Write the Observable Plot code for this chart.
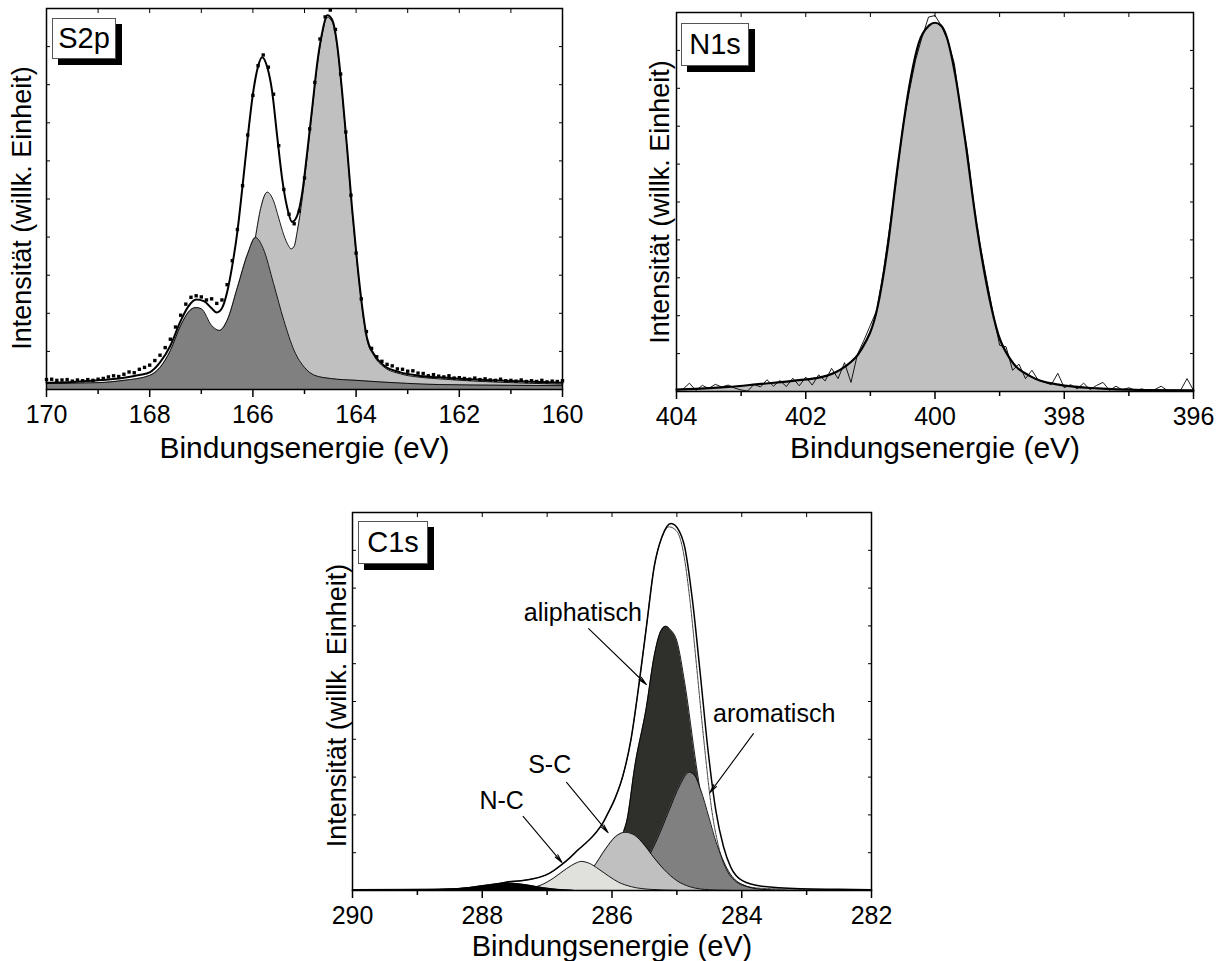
<!DOCTYPE html>
<html><head><meta charset="utf-8">
<script src="https://cdn.jsdelivr.net/npm/d3@7"></script>
<script src="https://cdn.jsdelivr.net/npm/@observablehq/plot@0.6"></script>
<style>
body{margin:0;background:#fff;}
#page{position:relative;width:1224px;height:961px;background:#fff;overflow:hidden;font-family:"Liberation Sans",Arial,Helvetica,sans-serif;}
.panel{position:absolute;}
.tag{position:absolute;background:#fff;border:1px solid #555;box-shadow:6px 6px 0 #000;font-size:29px;line-height:1;display:flex;align-items:center;justify-content:center;box-sizing:border-box;color:#000;}
</style></head><body>
<div id="page">
  <div class="panel" id="s2p" style="left:0px;top:0px"></div>
  <div class="panel" id="n1s" style="left:624px;top:0px"></div>
  <div class="panel" id="c1s" style="left:300px;top:470px"></div>
</div>
<script>
// ---------- text ----------
const yTitle = "Intensität (willk. Einheit)";
const xTitle = "Bindungsenergie (eV)";
const panelNames = ["S2p", "N1s", "C1s"];
const yTicks = [10, 20, 30, 40, 50, 60, 70, 80, 90];

// ---------- S2p ----------
const s2pMajor = [170, 168, 166, 164, 162, 160];
const s2pMinor = [169, 167, 165, 163, 161];
const s2pFitE = [170, 169.5, 169, 168.5, 168.2, 168, 167.8, 167.6, 167.4, 167.25, 167.1, 166.95, 166.8, 166.7, 166.6, 166.5, 166.4, 166.3, 166.2, 166.1, 166.0, 165.9, 165.82, 165.72, 165.63, 165.53, 165.43, 165.34, 165.24, 165.14, 165.04, 164.95, 164.85, 164.75, 164.66, 164.56, 164.46, 164.37, 164.27, 164.17, 164.08, 163.98, 163.88, 163.79, 163.66, 163.46, 163.14, 162.82, 162.4, 161.7, 161, 160];
const s2pFitI = [1.8, 2.0, 2.4, 3.1, 3.8, 4.5, 7.1, 11.5, 18, 21.8, 23.6, 23.2, 21.3, 20.2, 21.3, 25.5, 32.5, 41.5, 53.5, 66.2, 77.5, 84.8, 87.2, 84.5, 78.5, 66.5, 55, 48, 44, 45.7, 52, 62, 74, 86, 93.5, 98.2, 96.9, 90.8, 78, 62.7, 47.8, 33.5, 21.5, 13.6, 9.4, 6.3, 4.5, 3.7, 3.2, 2.6, 2.2, 1.8];
const s2pLightE = [170, 168, 167, 166.6, 166.4, 166.2, 166.05, 165.95, 165.85, 165.72, 165.6, 165.5, 165.4, 165.3, 165.26, 165.2, 165.14, 165.04, 164.95, 164.85, 164.75, 164.66, 164.56, 164.46, 164.37, 164.27, 164.17, 164.08, 163.98, 163.88, 163.79, 163.66, 163.46, 163.14, 162.82, 162.4, 161.7, 161, 160];
const s2pLightI = [1.0, 2.0, 5, 9, 14, 22, 32, 40, 47.5, 51.8, 49.5, 45, 40.5, 37.5, 36.9, 37.6, 41.5, 50.5, 61, 73.5, 85.5, 93, 97.7, 96.4, 90.3, 77.5, 62.2, 47.3, 33, 21, 13.1, 9, 5.9, 4.1, 3.3, 2.8, 2.2, 1.8, 1.4];
const s2pDarkE = [170, 169, 168.5, 168, 167.8, 167.6, 167.4, 167.2, 167.1, 167.0, 166.8, 166.65, 166.5, 166.3, 166.1, 165.95, 165.8, 165.6, 165.4, 165.2, 165.0, 164.8, 164.5, 164, 163, 162.4, 161, 160];
const s2pDarkI = [1.6, 1.8, 2.4, 3.7, 5.8, 10.2, 16.8, 21, 21.5, 21.2, 16.8, 15.5, 18.1, 26.8, 35.7, 39.9, 37, 27.8, 18.1, 10.2, 5.8, 3.7, 2.9, 2.4, 1.6, 1.3, 1.1, 1.0];
// measured points, one every 0.1 eV from 170.0 down to 160.0
const s2pDataStart = 170, s2pDataStep = 0.1;
const s2pDataI = [
  2.6, 2.7, 2.4, 2.5, 2.6, 2.2, 2.5, 2.3, 2.6, 2.4,
  2.7, 2.9, 3.3, 3.6, 3.4, 4.0, 4.6, 4.4, 5.3, 5.8,
  6.4, 7.6, 9.0, 11.0, 13.2, 16.4, 19.5, 22.4, 24.2, 24.6,
  24.3, 23.5, 23.8, 22.6, 23.5, 27.5, 33.8, 42.0, 53.5, 66.8,
  77.2, 85.0, 87.8, 84.6, 77.5, 64.0, 52.5, 46.0, 43.5, 46.8,
  55.5, 68.4, 80.6, 92.0, 97.8, 99.6, 94.5, 82.8, 67.6, 51.0,
  35.8, 23.8, 15.2, 10.8, 8.6, 7.4, 6.6, 6.2, 5.4, 5.3,
  4.8, 4.9, 4.3, 4.2, 3.6, 3.9, 3.5, 3.3, 3.6, 3.0,
  3.1, 2.9, 2.7, 3.0, 2.6, 2.8, 2.5, 2.4, 2.7, 2.3,
  2.4, 2.2, 2.5, 2.1, 2.3, 2.1, 2.4, 2.0, 2.2, 2.1,
  2.3];

// ---------- N1s ----------
const n1sMajor = [404, 402, 400, 398, 396];
const n1sMinor = [403, 401, 399, 397];
const n1sFitE = [404, 403.7, 403.2, 402.7, 402.2, 401.67, 401.4, 401.15, 400.89, 400.74, 400.58, 400.4, 400.25, 400.09, 400.0, 399.91, 399.82, 399.69, 399.54, 399.35, 399.17, 399.02, 398.83, 398.52, 398.09, 397.48, 396.8, 396];
const n1sFitI = [0.5, 0.7, 1.2, 2.0, 2.8, 4.2, 6.5, 10.8, 22.2, 37.2, 59.1, 80.3, 92, 96.6, 97.3, 96.6, 93.6, 83.8, 67.1, 43.2, 25.6, 15, 8.4, 4, 1.8, 0.8, 0.4, 0.3];
// raw spectrum, one point every 0.1 eV from 404.0 down to 396.0
const n1sRawStart = 404, n1sRawStep = 0.1;
const n1sRawI = [
  0.4, 0.6, 2.2, 0.3, 1.6, 0.8, 1.9, 1.2, 1.7, 0.9,
  0.4, 0.1, 1.9, 1.2, 3.1, 1.4, 2.9, 1.3, 3.5, 1.5,
  3.8, 1.7, 4.4, 2.8, 6.1, 3.4, 7.6, 2.4, 9.8, 13.5,
  17.5, 21.5, 31.5, 43.5, 55.5, 69.6, 79, 87.5, 93.5, 98.8,
  99.2, 96.5, 92.5, 86.5, 73.5, 63.5, 49.5, 38.5, 29.5, 20.5,
  12.2, 11.8, 5.6, 7.2, 3.4, 5.6, 2.9, 2.4, 1.8, 4.8,
  1.0, 1.8, 0.7, 2.2, 0.5, 1.6, 2.4, 0.3, 1.4, 0.4,
  1.0, 0.3, 0.7, 0.2, 0.5, 1.4, 0.2, 0.1, 0.3, 3.4,
  0.3];

// ---------- C1s ----------
const c1sMajor = [290, 288, 286, 284, 282];
const c1sMinor = [289, 287, 285, 283];
const c1sFitE = [290, 289, 288.44, 288.1, 287.85, 287.6, 287.4, 287.25, 287.1, 286.96, 286.8, 286.66, 286.52, 286.42, 286.3, 286.24, 286.15, 286.07, 285.95, 285.83, 285.71, 285.59, 285.47, 285.35, 285.23, 285.09, 284.97, 284.88, 284.76, 284.64, 284.52, 284.4, 284.28, 284.17, 283.99, 283.69, 283.1, 282.5, 282];
const c1sFitI = [0.2, 0.25, 0.4, 0.8, 1.3, 2.3, 2.6, 3.0, 3.6, 4.6, 6.5, 8.5, 10.8, 12.3, 14.3, 15.5, 17.6, 20.2, 24.5, 30.5, 39.7, 53.8, 69.7, 85.6, 93.6, 97.1, 95.3, 90.9, 76.8, 57.4, 37.1, 21.2, 11.5, 6.2, 2.6, 1.1, 0.44, 0.3, 0.2];
const c1sDataE = [290, 288.44, 288.1, 287.85, 287.6, 287.4, 287.25, 287.1, 286.96, 286.8, 286.66, 286.52, 286.42, 286.3, 286.24, 286.15, 286.07, 285.95, 285.83, 285.71, 285.59, 285.47, 285.35, 285.23, 285.12, 285.0, 284.9, 284.8, 284.7, 284.58, 284.46, 284.34, 284.22, 284.1, 283.9, 283.6, 283, 282];
const c1sDataI = [0.2, 0.4, 0.8, 1.3, 2.3, 2.6, 3.0, 3.6, 4.6, 6.5, 8.5, 10.8, 12.3, 14.3, 15.5, 17.6, 20.2, 24.5, 30.5, 39.7, 53.8, 69.7, 85.6, 93.4, 96.2, 95.0, 89.5, 77, 60, 39, 21, 10.5, 5, 2.5, 1.0, 0.5, 0.3, 0.2];
const c1sAliphE = [286.6, 286.4, 286.2, 286.0, 285.9, 285.83, 285.77, 285.65, 285.47, 285.35, 285.25, 285.17, 285.1, 285.0, 284.88, 284.7, 284.55, 284.4, 284.25, 284.1, 283.9, 283.6];
const c1sAliphI = [0.1, 0.5, 2, 6, 10, 15, 18.5, 32.7, 48.5, 62, 68.5, 69.9, 69, 66, 55, 33, 17, 6.5, 2.5, 0.8, 0.2, 0.05];
const c1sAromE = [286.0, 285.65, 285.47, 285.29, 285.12, 284.95, 284.81, 284.72, 284.64, 284.5, 284.4, 284.3, 284.2, 284.1, 283.99, 283.69, 283.3];
const c1sAromI = [0.5, 3.5, 7.9, 14.1, 21.2, 28, 31.3, 30.3, 27, 19, 13, 8.5, 5, 2.8, 1.6, 0.3, 0.05];
const c1sSCE = [287.0, 286.7, 286.5, 286.3, 286.1, 285.95, 285.8, 285.65, 285.5, 285.35, 285.2, 285.0, 284.8, 284.5, 284.2];
const c1sSCI = [0.2, 1.2, 2.8, 5.9, 11, 14.2, 15.4, 14.6, 12, 8.6, 5.6, 2.6, 1.0, 0.2, 0.05];
const c1sNCE = [287.6, 287.3, 287.1, 286.9, 286.7, 286.55, 286.48, 286.35, 286.2, 286.05, 285.9, 285.7, 285.4, 285.0];
const c1sNCI = [0.1, 0.6, 1.4, 3.3, 5.8, 7.3, 7.7, 7.2, 5.6, 3.8, 2.2, 1.0, 0.3, 0.05];
const c1sCOE = [289.2, 288.6, 288.2, 287.9, 287.66, 287.45, 287.25, 287.05, 286.85, 286.6];
const c1sCOI = [0.05, 0.3, 0.8, 1.5, 2.0, 1.8, 1.3, 0.7, 0.3, 0.05];
// annotations
const c1sLabels = ["aliphatisch", "aromatisch", "S-C", "N-C"];
const c1sLabelE = [286.45, 283.50, 286.96, 287.70];
const c1sLabelI = [73.5, 46.8, 33.1, 23.8];
const c1sArrowFromE = [286.36, 283.82, 286.70, 287.37];
const c1sArrowFromI = [69.3, 41.5, 28.6, 19.6];
const c1sArrowToE = [285.47, 284.49, 286.06, 286.77];
const c1sArrowToI = [54.5, 25.9, 15.3, 7.4];

// ---------- helpers ----------
const FONT = '"Liberation Sans", Arial, Helvetica, sans-serif';
const CURVE = "monotone-x";
const zip = (E, I) => E.map((e, i) => ({e, v: I[i]}));
const grid = (start, step, I) => I.map((v, i) => ({e: +(start - i * step).toFixed(2), v}));

function comp(data, fill) {
  return [
    Plot.areaY(data, {x: "e", y: "v", fill, curve: CURVE}),
    Plot.lineY(data, {x: "e", y: "v", stroke: "black", strokeWidth: 0.9, curve: CURVE})
  ];
}

function axes(major, minor) {
  const all = major.concat(minor);
  return [
    Plot.axisX({ticks: major, tickSize: 8, tickPadding: 8, tickFormat: d => String(d), label: null, fontSize: 25, strokeWidth: 1.5}),
    Plot.axisX({ticks: minor, tickSize: 5, tickFormat: () => "", label: null, strokeWidth: 1.5}),
    Plot.axisX({anchor: "top", ticks: all, tickSize: 4, dy: 4, tickFormat: () => "", label: null}),
    Plot.axisY({anchor: "left", ticks: yTicks, tickSize: 4, dx: 4, tickFormat: () => "", label: null}),
    Plot.axisY({anchor: "right", ticks: yTicks, tickSize: 4, dx: -4, tickFormat: () => "", label: null})
  ];
}

function titles(xdy, xfs, ydx, ydy) {
  return [
    Plot.text([xTitle], {frameAnchor: "bottom", dy: xdy, fontSize: xfs, lineAnchor: "middle", textAnchor: "middle", fill: "black"}),
    Plot.text([yTitle], {frameAnchor: "left", rotate: -90, dx: ydx, dy: ydy, fontSize: 27, lineAnchor: "middle", textAnchor: "middle", fill: "black"})
  ];
}

function make(id, cfg) {
  const chart = Plot.plot({
    width: cfg.width, height: cfg.height,
    marginLeft: cfg.ml, marginRight: cfg.mr, marginTop: cfg.mt, marginBottom: cfg.mb,
    x: {domain: cfg.domain},
    y: {domain: [0, 100]},
    style: {background: "transparent", fontFamily: FONT, color: "black", overflow: "visible", fontSize: "25px"},
    marks: [
      ...cfg.marks,
      ...axes(cfg.major, cfg.minor),
      Plot.frame({stroke: "black", strokeWidth: 1.5}),
      ...titles(cfg.xdy, cfg.xfs, cfg.ydx, cfg.ydy)
    ]
  });
  document.getElementById(id).appendChild(chart);
}

// ---------- S2p ----------
make("s2p", {
  width: 600, height: 470, ml: 46, mr: 38, mt: 8, mb: 81,
  domain: [s2pMajor[0], s2pMajor[s2pMajor.length - 1]],
  major: s2pMajor, minor: s2pMinor, xdy: 59, xfs: 30, ydx: -24, ydy: 9,
  marks: [
    ...comp(zip(s2pLightE, s2pLightI), "#c0c0c0"),
    ...comp(zip(s2pDarkE, s2pDarkI), "#808080"),
    Plot.lineY(zip(s2pFitE, s2pFitI), {x: "e", y: "v", stroke: "black", strokeWidth: 2, curve: CURVE}),
    Plot.dot(grid(s2pDataStart, s2pDataStep, s2pDataI), {x: "e", y: "v", symbol: "square", r: 1.9, fill: "black"})
  ]
});

// ---------- N1s ----------
const n1sFit = zip(n1sFitE, n1sFitI);
make("n1s", {
  width: 600, height: 470, ml: 52, mr: 31, mt: 12, mb: 79,
  domain: [n1sMajor[0], n1sMajor[n1sMajor.length - 1]],
  major: n1sMajor, minor: n1sMinor, xdy: 57, xfs: 30, ydx: -16, ydy: 0,
  marks: [
    Plot.areaY(n1sFit, {x: "e", y: "v", fill: "#c0c0c0", curve: CURVE}),
    Plot.lineY(grid(n1sRawStart, n1sRawStep, n1sRawI), {x: "e", y: "v", stroke: "black", strokeWidth: 0.9}),
    Plot.lineY(n1sFit, {x: "e", y: "v", stroke: "black", strokeWidth: 2.2, curve: CURVE})
  ]
});

// ---------- C1s ----------
const labels = c1sLabels.map((t, i) => ({t, e: c1sLabelE[i], v: c1sLabelI[i]}));
const arrows = c1sLabels.map((t, i) => ({e1: c1sArrowFromE[i], v1: c1sArrowFromI[i], e2: c1sArrowToE[i], v2: c1sArrowToI[i]}));
make("c1s", {
  width: 600, height: 491, ml: 52, mr: 29, mt: 42, mb: 71,
  domain: [c1sMajor[0], c1sMajor[c1sMajor.length - 1]],
  major: c1sMajor, minor: c1sMinor, xdy: 56, xfs: 29, ydx: -15, ydy: 4,
  marks: [
    ...comp(zip(c1sAliphE, c1sAliphI), "#2f302b"),
    ...comp(zip(c1sAromE, c1sAromI), "#808080"),
    ...comp(zip(c1sSCE, c1sSCI), "#c0c0c0"),
    ...comp(zip(c1sNCE, c1sNCI), "#e0e0dc"),
    ...comp(zip(c1sCOE, c1sCOI), "#000000"),
    Plot.lineY(zip(c1sDataE, c1sDataI), {x: "e", y: "v", stroke: "black", strokeWidth: 0.8, strokeDasharray: "1.5,1", curve: CURVE}),
    Plot.lineY(zip(c1sFitE, c1sFitI), {x: "e", y: "v", stroke: "black", strokeWidth: 1.5, curve: CURVE}),
    Plot.arrow(arrows, {x1: "e1", y1: "v1", x2: "e2", y2: "v2", stroke: "black", strokeWidth: 1.1, headLength: 12, headAngle: 22}),
    Plot.text(labels, {x: "e", y: "v", text: "t", fontSize: 25, textAnchor: "middle", lineAnchor: "middle", fill: "black"})
  ]
});

// ---------- panel name tags ----------
const tagLeft = [52, 681, 358];
const tagTop = [18, 23, 521];
const tagW = [64, 68, 70];
const tagH = [41, 43, 43];
const page = document.getElementById("page");
panelNames.forEach((name, i) => {
  const d = document.createElement("div");
  d.className = "tag";
  d.textContent = name;
  d.style.left = tagLeft[i] + "px";
  d.style.top = tagTop[i] + "px";
  d.style.width = tagW[i] + "px";
  d.style.height = tagH[i] + "px";
  page.appendChild(d);
});
</script>
</body></html>
